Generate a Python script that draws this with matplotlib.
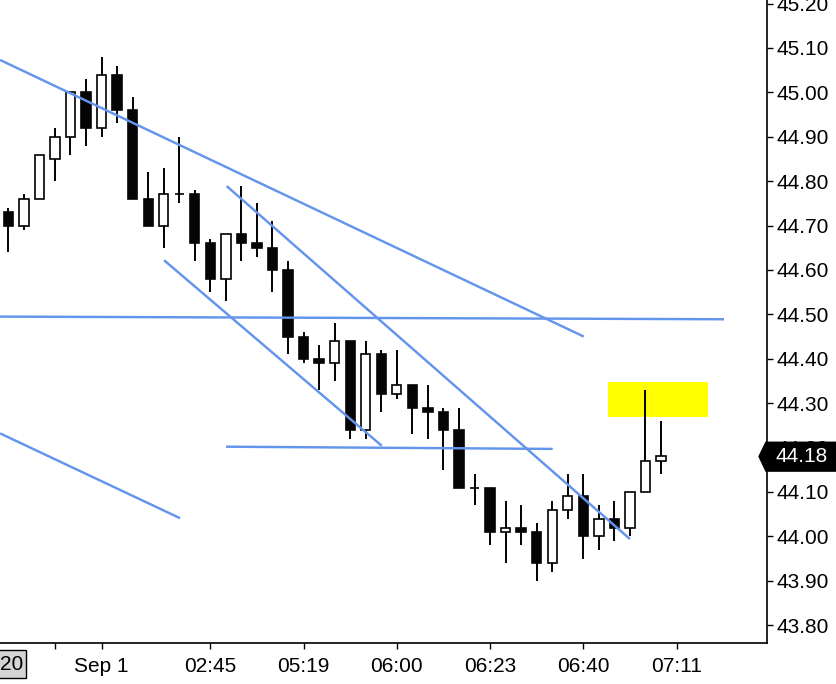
import matplotlib
matplotlib.use("Agg")
import matplotlib.pyplot as plt
import matplotlib.transforms as mtransforms
from matplotlib.patches import Polygon, Rectangle
import numpy as np

plt.rcParams["font.family"] = ["Liberation Sans", "DejaVu Sans"]

# OHLC per bar (bar index 0..42)
opens = [44.73, 44.70, 44.76, 44.85, 44.90, 45.00, 44.92, 45.04, 44.96, 44.76,
         44.70, 44.77, 44.77, 44.66, 44.58, 44.68, 44.66, 44.65, 44.60, 44.45,
         44.40, 44.39, 44.44, 44.24, 44.41, 44.32, 44.34, 44.29, 44.28, 44.24,
         44.11, 44.11, 44.01, 44.02, 44.01, 43.94, 44.06, 44.09, 44.00, 44.04,
         44.02, 44.10, 44.17]
highs = [44.74, 44.77, 44.86, 44.92, 45.00, 45.03, 45.08, 45.06, 44.99, 44.82,
         44.83, 44.90, 44.78, 44.67, 44.68, 44.79, 44.75, 44.71, 44.62, 44.46,
         44.43, 44.48, 44.44, 44.44, 44.42, 44.42, 44.34, 44.34, 44.29, 44.29,
         44.14, 44.11, 44.08, 44.07, 44.03, 44.08, 44.14, 44.14, 44.07, 44.08,
         44.10, 44.33, 44.26]
lows = [44.64, 44.69, 44.76, 44.80, 44.86, 44.88, 44.90, 44.93, 44.76, 44.70,
        44.65, 44.75, 44.62, 44.55, 44.53, 44.62, 44.63, 44.55, 44.41, 44.39,
        44.33, 44.35, 44.22, 44.22, 44.28, 44.31, 44.23, 44.22, 44.15, 44.11,
        44.07, 43.98, 43.94, 43.98, 43.90, 43.92, 44.04, 43.95, 43.97, 43.99,
        44.00, 44.10, 44.14]
closes = [44.70, 44.76, 44.86, 44.90, 45.00, 44.92, 45.04, 44.96, 44.76, 44.70,
          44.77, 44.77, 44.66, 44.58, 44.68, 44.66, 44.65, 44.60, 44.45, 44.40,
          44.39, 44.44, 44.24, 44.41, 44.32, 44.34, 44.29, 44.28, 44.24, 44.11,
          44.11, 44.01, 44.02, 44.01, 43.94, 44.06, 44.09, 44.00, 44.04, 44.02,
          44.10, 44.17, 44.18]

# x-axis ticks (bar index) and labels
tick_pos = [3, 6, 13, 19, 25, 31, 37, 43]
tick_labels = ["", "Sep 1", "02:45", "05:19", "06:00", "06:23", "06:40", "07:11"]
price_ticks = [43.80, 43.90, 44.00, 44.10, 44.20, 44.30, 44.40, 44.50,
               44.60, 44.70, 44.80, 44.90, 45.00, 45.10, 45.20]

# hand-drawn trend lines: (x0, price0, x1, price1)
trend_lines = [
    (-0.53, 45.073, 37.03, 44.450),
    (14.05, 44.789, 40.00, 43.994),
    (10.02, 44.622, 24.03, 44.204),
    (-0.53, 44.495, 46.05, 44.489),
    (14.01, 44.202, 35.03, 44.197),
    (-0.53, 44.232, 11.05, 44.041),
]

# yellow highlight box (bar index span, price span)
highlight_x = [38.6, 45.0]
highlight_p = [44.268, 44.348]

last_price = 44.18

BLUE = "#6495ED"

fig = plt.figure(figsize=(8.36, 6.84), dpi=100)
ax = fig.add_axes([0.0, 0.06, 766.7 / 836, 0.94])

x = np.arange(len(opens))
o = np.array(opens)
h = np.array(highs)
l = np.array(lows)
c = np.array(closes)
up = c >= o

# wicks behind the bodies
ax.vlines(x, l, h, color="black", lw=1.4, zorder=2)
bottom = np.minimum(o, c)
height = np.abs(c - o)
ax.bar(x[up], height[up], bottom=bottom[up], width=0.6, color="white",
       edgecolor="black", lw=1.2, zorder=3)
ax.bar(x[~up], height[~up], bottom=bottom[~up], width=0.6, color="#050505",
       edgecolor="#050505", lw=1.2, zorder=3)

for x0, p0, x1, p1 in trend_lines:
    ax.plot([x0, x1], [p0, p1], color=BLUE, lw=1.75, zorder=4,
            solid_capstyle="butt")

ax.fill_between(highlight_x, highlight_p[0], highlight_p[1], color="#FFFF00",
                lw=0, zorder=1)

ax.set_xlim(-0.534, 48.8)
ax.set_ylim(43.760, 45.208)

ax.spines["left"].set_visible(False)
ax.spines["top"].set_visible(False)
for s in ("right", "bottom"):
    ax.spines[s].set_linewidth(1.2)

ax.yaxis.tick_right()
ax.set_yticks(price_ticks)
ax.set_yticklabels([f"{p:.2f}" for p in price_ticks])
ax.set_xticks(tick_pos)
ax.set_xticklabels(tick_labels)
ax.tick_params(axis="both", direction="out", length=4, width=1.0,
               labelsize=15, colors="black")
ax.tick_params(axis="y", pad=3)
ax.tick_params(axis="x", pad=6)

# last-price tag on the right axis
trans = mtransforms.blended_transform_factory(ax.transAxes, ax.transData)
tag = Polygon([(0.990, last_price), (0.999, 44.212), (1.2, 44.212),
               (1.2, 44.147), (0.999, 44.147)], closed=True,
              facecolor="black", edgecolor="black", transform=trans,
              clip_on=False, zorder=10)
ax.add_patch(tag)
ax.text(1.0 + 8.5 / 766.7, last_price, f"{last_price:.2f}", transform=trans,
        color="white", fontsize=15, ha="left", va="center", zorder=11,
        clip_on=False)

# partial date label box at the lower left
fig.patches.append(Rectangle((-10 / 836, 6 / 684), 36 / 836, 28 / 684,
                             transform=fig.transFigure, facecolor="#D4D4D4",
                             edgecolor="black", lw=1.0))
fig.text(11.5 / 836, 20 / 684, "20", fontsize=15, ha="center", va="center")

fig.savefig("out.png", dpi=100, facecolor="white")
